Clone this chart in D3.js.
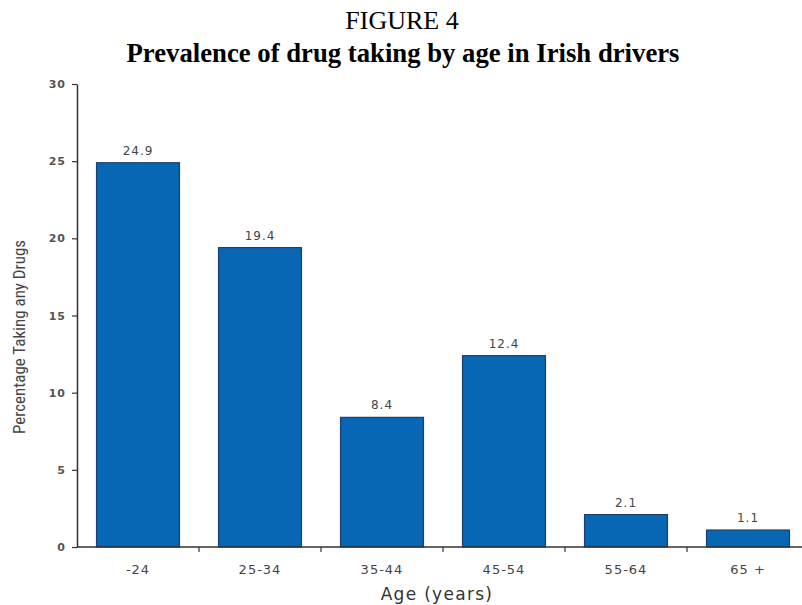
<!DOCTYPE html>
<html><head><meta charset="utf-8">
<script src="https://cdn.jsdelivr.net/npm/d3@7"></script>
<style>body{margin:0;background:#fff}svg{display:block}</style>
</head><body>
<script>
const categories = ["-24","25-34","35-44","45-54","55-64","65 +"];
const values = [24.9,19.4,8.4,12.4,2.1,1.1];
const valueLabels = ["24.9","19.4","8.4","12.4","2.1","1.1"];
const yTicks = [0,5,10,15,20,25,30];

const W=802,H=605;
const svg=d3.select("body").append("svg").attr("width",W).attr("height",H);
const x=d3.scaleBand().domain(categories).range([77,809]).paddingInner(0.32).paddingOuter(0.16);
const y=d3.scaleLinear().domain([0,30]).range([547,84]);

svg.append("text").attr("x",402).attr("y",29).attr("text-anchor","middle")
  .style("font-family","'Liberation Serif','Times New Roman',serif").style("font-size","26px").text("FIGURE 4");
svg.append("text").attr("x",403).attr("y",62).attr("text-anchor","middle")
  .attr("textLength",553).attr("lengthAdjust","spacingAndGlyphs")
  .style("font-family","'Liberation Serif','Times New Roman',serif").style("font-weight","bold").style("font-size","27px")
  .text("Prevalence of drug taking by age in Irish drivers");

// bars
svg.selectAll("rect.bar").data(values).join("rect").attr("class","bar")
  .attr("x",(d,i)=>x(categories[i])).attr("width",x.bandwidth())
  .attr("y",d=>y(d)).attr("height",d=>y(0)-y(d))
  .attr("fill","#0767b5").attr("stroke","#1d3f6e").attr("stroke-width",1.2);

svg.selectAll("text.val").data(values).join("text").attr("class","val")
  .attr("x",(d,i)=>x(categories[i])+x.bandwidth()/2).attr("y",d=>y(d)-8)
  .attr("text-anchor","middle").style("font-family","'DejaVu Sans',Verdana,sans-serif")
  .style("font-size","12px").style("letter-spacing","1px").attr("fill","#444")
  .text((d,i)=>valueLabels[i]);

// y axis
const ya=svg.append("g").attr("transform","translate(77,0)")
  .call(d3.axisLeft(y).tickValues(yTicks).tickSize(5).tickSizeOuter(0).tickPadding(6));
ya.select(".domain").attr("stroke","#333").attr("stroke-width",1.5);
ya.selectAll(".tick line").attr("stroke","#333").attr("stroke-width",1.2);
ya.selectAll(".tick text").style("font-family","'DejaVu Sans',Verdana,sans-serif").style("font-size","11px")
  .style("font-weight","bold").attr("fill","#555").style("letter-spacing","1px");

// x axis with ticks at band boundaries
const xa=svg.append("g").attr("transform","translate(0,547)");
xa.append("line").attr("x1",77).attr("x2",809).attr("y1",0).attr("y2",0).attr("stroke","#333").attr("stroke-width",1.5);
const step=x.step();
xa.selectAll("line.tk").data(categories.slice(1)).join("line").attr("class","tk")
  .attr("x1",d=>x(d)-x.paddingInner()*step/2).attr("x2",d=>x(d)-x.paddingInner()*step/2)
  .attr("y1",0).attr("y2",5).attr("stroke","#333").attr("stroke-width",1.2);
xa.selectAll("text.cat").data(categories).join("text").attr("class","cat")
  .attr("x",d=>x(d)+x.bandwidth()/2).attr("y",27).attr("text-anchor","middle")
  .style("font-family","'DejaVu Sans',Verdana,sans-serif").style("font-size","13px").style("letter-spacing","1px")
  .attr("fill","#444").text(d=>d);

svg.append("text").attr("x",437).attr("y",600).attr("text-anchor","middle")
  .style("font-family","'DejaVu Sans',Verdana,sans-serif").style("font-size","17px").style("letter-spacing","1.3px")
  .attr("fill","#333").text("Age  (years)");

svg.append("text").attr("transform","translate(25,337) rotate(-90)").attr("text-anchor","middle")
  .style("font-family","'Liberation Sans Narrow','Roboto Condensed',sans-serif").style("font-size","17px")
  .attr("fill","#444").text("Percentage Taking any Drugs");
</script>
</body></html>
